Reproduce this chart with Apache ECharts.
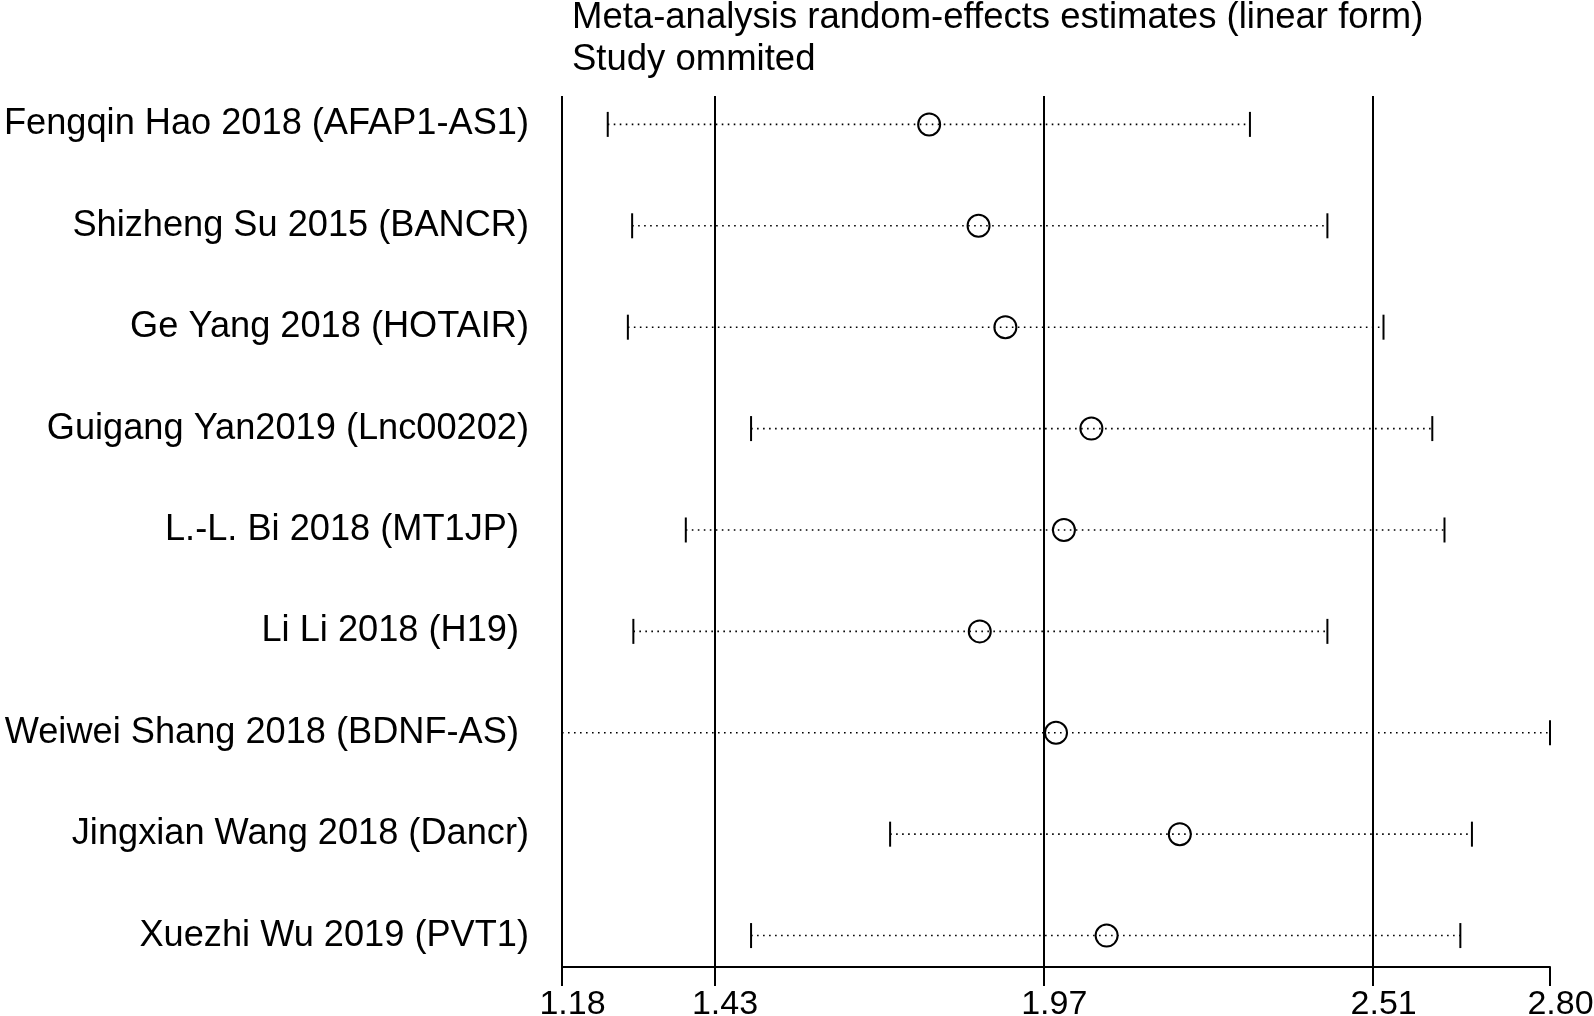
<!DOCTYPE html>
<html>
<head>
<meta charset="utf-8">
<script src="https://cdn.jsdelivr.net/npm/echarts@6/dist/echarts.min.js"></script>
<style>
html,body{margin:0;padding:0;background:#fff;}
#chart{width:1594px;height:1016px;}
</style>
</head>
<body>
<div id="chart"></div>
<script>
const studies = [
  "Fengqin Hao 2018 (AFAP1-AS1)",
  "Shizheng Su 2015 (BANCR)",
  "Ge Yang 2018 (HOTAIR)",
  "Guigang Yan2019 (Lnc00202)",
  "L.-L. Bi 2018 (MT1JP) ",
  "Li Li 2018 (H19) ",
  "Weiwei Shang 2018 (BDNF-AS) ",
  "Jingxian Wang 2018 (Dancr)",
  "Xuezhi Wu 2019 (PVT1)"
];
const lower    = [1.255, 1.295, 1.288, 1.490, 1.383, 1.297, 1.180, 1.718, 1.490];
const estimate = [1.782, 1.863, 1.907, 2.048, 2.003, 1.865, 1.990, 2.193, 2.073];
const upper    = [2.308, 2.435, 2.527, 2.607, 2.627, 2.435, 2.800, 2.672, 2.653];
const tickValues = [1.18, 1.43, 1.97, 2.51, 2.80];
const refLines = [1.18, 1.43, 1.97, 2.51];
const titleLines = ["Meta-analysis random-effects estimates (linear form)", "Study ommited"];

const rowIdx = studies.map((s, i) => i + 1);
const data = studies.map((s, i) => [i + 1, lower[i], estimate[i], upper[i]]);
const FONT = '"Liberation Sans", Arial, sans-serif';

const chart = echarts.init(document.getElementById('chart'), null, {renderer: 'canvas'});
chart.setOption({
  animation: false,
  backgroundColor: '#fff',
  title: {
    text: titleLines.join('\n'),
    left: 572,
    top: -3,
    padding: 0,
    textStyle: {fontFamily: FONT, fontSize: 36.5, fontWeight: 'normal', color: '#000', lineHeight: 42}
  },
  grid: {left: 562, right: 44, top: 96, bottom: 49, containLabel: false, outerBoundsMode: 'none'},
  xAxis: {
    type: 'value',
    min: 1.18,
    max: 2.80,
    axisLine: {show: true, lineStyle: {color: '#000', width: 2}},
    axisTick: {show: true, customValues: tickValues, length: 19, lineStyle: {color: '#000', width: 2}},
    axisLabel: {
      show: true, customValues: tickValues, formatter: v => v.toFixed(2),
      fontFamily: FONT, fontSize: 34, color: '#000', margin: 21,
      padding: [0, 0, 0, 21]
    },
    splitLine: {show: false}
  },
  yAxis: {
    type: 'value',
    inverse: true,
    min: 0.72,
    max: 9.31,
    axisLine: {show: false},
    axisTick: {show: false},
    splitLine: {show: false},
    axisLabel: {
      show: true,
      customValues: rowIdx,
      formatter: v => studies[Math.round(v) - 1] || '',
      fontFamily: FONT, fontSize: 36.2, color: '#000', margin: 33,
      padding: [10, 0, 0, 0]
    }
  },
  series: [{
    type: 'custom',
    clip: false,
    encode: {x: [1, 2, 3], y: 0},
    data: data,
    renderItem: function (params, api) {
      const y = api.value(0);
      const lo = api.coord([api.value(1), y]);
      const es = api.coord([api.value(2), y]);
      const hi = api.coord([api.value(3), y]);
      const h = 12.5;
      return {
        type: 'group',
        children: [
          {type: 'line', shape: {x1: lo[0], y1: lo[1], x2: hi[0], y2: hi[1]},
           style: {stroke: '#000', lineWidth: 1.6, lineDash: [1.6, 4.4]}},
          {type: 'line', shape: {x1: lo[0], y1: lo[1] - h, x2: lo[0], y2: lo[1] + h},
           style: {stroke: '#000', lineWidth: 2}},
          {type: 'line', shape: {x1: hi[0], y1: hi[1] - h, x2: hi[0], y2: hi[1] + h},
           style: {stroke: '#000', lineWidth: 2}},
          {type: 'circle', shape: {cx: es[0], cy: es[1], r: 11},
           style: {fill: 'none', stroke: '#000', lineWidth: 2}}
        ]
      };
    },
    markLine: {
      silent: true,
      symbol: 'none',
      label: {show: false},
      lineStyle: {color: '#000', width: 2, type: 'solid'},
      data: refLines.map(v => ({xAxis: v}))
    }
  }]
});
</script>
</body>
</html>
